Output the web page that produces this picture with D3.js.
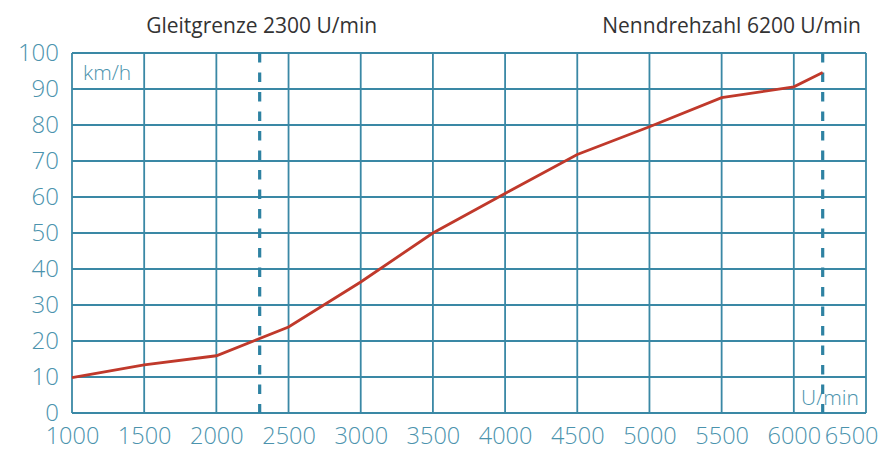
<!DOCTYPE html>
<html>
<head>
<meta charset="utf-8">
<script src="https://cdn.jsdelivr.net/npm/d3@7"></script>
<style>
  body { margin: 0; background: #fff; }
  svg text { font-family: "Open Sans", Lato, sans-serif; }
</style>
</head>
<body>
<svg id="chart" width="889" height="450"></svg>
<script>
// ---- Data ----
const rpm = [1000, 1500, 2000, 2500, 3000, 3500, 4000, 4500, 5000, 5500, 6000, 6200];
const speed = [9.8, 13.4, 15.9, 23.9, 36.4, 50, 61, 71.8, 79.5, 87.6, 90.6, 94.6];
const xTicks = [1000, 1500, 2000, 2500, 3000, 3500, 4000, 4500, 5000, 5500, 6000, 6500];
const yTicks = [0, 10, 20, 30, 40, 50, 60, 70, 80, 90, 100];
const markers = [2300, 6200];
const markerLabels = ["Gleitgrenze 2300 U/min", "Nenndrehzahl 6200 U/min"];

const grid = "#3a88a5";
const label = "#4b93ad";
const red = "#c0392b";

const svg = d3.select("#chart");
const x = d3.scaleLinear().domain([1000, 6500]).range([72, 866]);
const y = d3.scaleLinear().domain([0, 100]).range([413, 53]);

// grid
svg.append("g").selectAll("line").data(xTicks).join("line")
  .attr("x1", d => x(d)).attr("x2", d => x(d))
  .attr("y1", y(0)).attr("y2", y(100))
  .attr("stroke", grid).attr("stroke-width", 1.8);
svg.append("g").selectAll("line").data(yTicks).join("line")
  .attr("x1", x(1000)).attr("x2", x(6500))
  .attr("y1", d => y(d)).attr("y2", d => y(d))
  .attr("stroke", grid).attr("stroke-width", 1.8);

// axis labels
const yAxis = d3.axisLeft(y).tickValues(yTicks).tickSize(0).tickPadding(13);
svg.append("g").attr("transform", `translate(${x(1000)},0)`).call(yAxis)
  .call(g => g.select(".domain").remove())
  .selectAll("text").attr("font-size", 24).attr("fill", label)
  .attr("font-family", "'Open Sans', sans-serif").attr("font-weight", 300);
const xAxis = d3.axisBottom(x).tickValues(xTicks).tickSize(0).tickPadding(14).tickFormat(d3.format("d"));
svg.append("g").attr("transform", `translate(0,${y(0)})`).call(xAxis)
  .call(g => g.select(".domain").remove())
  .selectAll("text").attr("font-size", 23.5).attr("fill", label)
  .attr("font-family", "'Open Sans', sans-serif").attr("font-weight", 300)
  .filter(d => d === 6500)
  .attr("text-anchor", "end").attr("x", 878 - x(6500));

// unit labels
svg.append("text").attr("x", x(1000) + 11).attr("y", y(92.5))
  .attr("font-size", 21).attr("fill", label).attr("font-weight", 300).text("km/h");
svg.append("text").attr("x", x(6500) - 7).attr("y", y(2.2)).attr("text-anchor", "end")
  .attr("font-size", 21).attr("fill", label).attr("font-weight", 300).text("U/min");

// dashed markers
svg.append("g").selectAll("line").data(markers).join("line")
  .attr("x1", d => x(d)).attr("x2", d => x(d))
  .attr("y1", y(100)).attr("y2", y(0))
  .attr("stroke", "#2e82a2").attr("stroke-width", 3.2)
  .attr("stroke-dasharray", "9.5,10");

// titles
svg.append("text").attr("x", x(2300) + 2).attr("y", 33).attr("text-anchor", "middle")
  .attr("font-size", 21).attr("fill", "#333").attr("font-weight", 400).text(markerLabels[0]);
svg.append("text").attr("x", 861).attr("y", 33).attr("text-anchor", "end")
  .attr("font-size", 21).attr("fill", "#333").attr("font-weight", 400).text(markerLabels[1]);

// curve
const line = d3.line().x((d, i) => x(rpm[i])).y(d => y(d));
svg.append("path").datum(speed).attr("d", line)
  .attr("fill", "none").attr("stroke", red).attr("stroke-width", 2.8);
</script>
</body>
</html>
